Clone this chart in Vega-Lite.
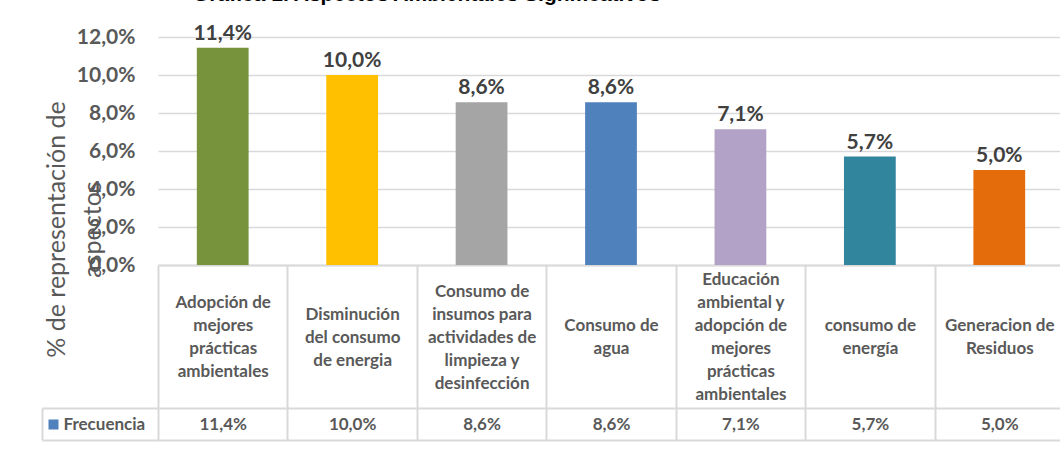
{
  "$schema": "https://vega.github.io/schema/vega-lite/v6.json",
  "width": 906,
  "height": 228,
  "autosize": {"type": "none"},
  "padding": {"left": 158, "top": 37, "right": -4, "bottom": 187},
  "background": "white",
  "config": {
    "locale": {"number": {"decimal": ",", "thousands": ".", "grouping": [3], "currency": ["", " €"]}},
    "view": {"stroke": null},
    "font": "Lato"
  },
  "title": {
    "text": "Gráfica 1. Aspectos Ambientales Significativos",
    "anchor": "start",
    "frame": "group",
    "dx": 35,
    "dy": -1,
    "offset": 0,
    "font": "Liberation Sans",
    "fontSize": 21,
    "fontWeight": "bold",
    "color": "#000000",
    "baseline": "alphabetic"
  },
  "datasets": {
    "tbl": [
      {"categoria": "Adopción de\nmejores\nprácticas\nambientales", "valor": 0.1143},
      {"categoria": "Disminución\ndel consumo\nde energia", "valor": 0.1},
      {"categoria": "Consumo de\ninsumos para\nactividades de\nlimpieza y\ndesinfección", "valor": 0.0857},
      {"categoria": "Consumo de\nagua", "valor": 0.0857},
      {"categoria": "Educación\nambiental y\nadopción de\nmejores\nprácticas\nambientales", "valor": 0.0714},
      {"categoria": "consumo de\nenergía", "valor": 0.0571},
      {"categoria": "Generacion de\nResiduos", "valor": 0.05}
    ]
  },
  "data": {"name": "tbl"},
  "layer": [
    {
      "mark": {"type": "bar", "width": {"band": 0.4}},
      "encoding": {
        "x": {
          "field": "categoria", "type": "nominal", "sort": null,
          "scale": {"paddingInner": 0, "paddingOuter": 0},
          "axis": {
            "orient": "bottom", "title": null, "grid": false,
            "domain": true, "domainColor": "#d9d9d9", "domainWidth": 2,
            "ticks": true, "tickBand": "extent", "tickSize": 143, "tickColor": "#d9d9d9", "tickWidth": 2,
            "labelExpr": "isValid(datum.value) && !datum.extra ? split(datum.value, '\\n') : ''",
            "labelAngle": 0, "labelAlign": "center", "labelBaseline": "middle",
            "labelPadding": {"expr": "isValid(datum.value) ? -71 - (length(split(datum.value, '\\n')) - 1) * 11.5 : 0"},
            "labelLineHeight": 23, "labelFont": "Lato", "labelFontSize": 17, "labelFontWeight": "bold",
            "labelColor": "#595959", "labelOverlap": false, "labelLimit": 0
          }
        },
        "y": {
          "field": "valor", "type": "quantitative",
          "scale": {"domain": [0, 0.12]},
          "axis": {
            "orient": "left",
            "values": [0, 0.02, 0.04, 0.06, 0.08, 0.1, 0.12],
            "format": ".1%",
            "grid": true, "gridColor": "#d9d9d9", "gridWidth": 1.5,
            "domain": false, "ticks": false,
            "labelPadding": 23, "labelFont": "Lato", "labelFontSize": 21, "labelFontWeight": "bold", "labelColor": "#595959",
            "title": ["% de representación de", "aspectos"],
            "titleFont": "Lato", "titleFontSize": 25, "titleFontWeight": "normal", "titleColor": "#595959",
            "titleAngle": 270, "titleX": -94, "titleY": 192, "titleAlign": "center", "titleBaseline": "alphabetic",
            "titleLineHeight": 36
          }
        },
        "color": {
          "field": "categoria", "type": "nominal", "sort": null,
          "scale": {"range": ["#77933c", "#ffc000", "#a5a5a5", "#4f81bd", "#b3a2c7", "#31859c", "#e46c0a"]},
          "legend": null
        }
      }
    },
    {
      "mark": {"type": "text", "baseline": "alphabetic", "dy": -8, "font": "Lato", "fontSize": 21, "fontWeight": "bold", "color": "#404040"},
      "encoding": {
        "x": {
          "field": "categoria", "type": "nominal", "sort": null,
          "axis": {
            "orient": "bottom", "offset": 143, "title": null, "grid": false,
            "domain": true, "domainColor": "#d9d9d9", "domainWidth": 2,
            "ticks": true, "tickBand": "extent", "tickSize": 32, "tickColor": "#d9d9d9", "tickWidth": 2,
            "labelExpr": "isValid(datum.value) && !datum.extra ? format(pluck(data('tbl'), 'valor')[indexof(pluck(data('tbl'), 'categoria'), datum.value)], '.1%') : ''",
            "labelAngle": 0, "labelAlign": "center", "labelBaseline": "middle", "labelPadding": -16,
            "labelFont": "Lato", "labelFontSize": 17, "labelFontWeight": "bold", "labelColor": "#595959",
            "labelOverlap": false, "labelLimit": 0
          }
        },
        "y": {
          "field": "valor", "type": "quantitative",
          "axis": {
            "orient": "left", "offset": 100, "values": [0], "title": null,
            "domain": false, "grid": false,
            "ticks": true, "tickSize": 10, "tickWidth": 10, "tickColor": "#4f81bd", "tickOffset": 159,
            "labelExpr": "'Frecuencia'", "labelOffset": 0, "labelFlush": false, "labelOverlap": false,
            "labelAlign": "left", "labelBaseline": "middle", "labelPadding": -15,
            "labelFont": "Lato", "labelFontSize": 17, "labelFontWeight": "bold", "labelColor": "#595959"
          }
        },
        "text": {"field": "valor", "type": "quantitative", "format": ".1%"}
      }
    },
    {
      "mark": {"type": "bar", "opacity": 0, "width": {"band": 0.4}},
      "encoding": {
        "x": {
          "field": "categoria", "type": "nominal", "sort": null,
          "axis": {
            "orient": "bottom", "offset": 175, "title": null, "grid": false,
            "domain": true, "domainColor": "#d9d9d9", "domainWidth": 2,
            "ticks": false, "labels": false
          }
        },
        "y": {
          "field": "valor", "type": "quantitative",
          "axis": {
            "orient": "left", "values": [0], "title": null, "domain": false, "grid": false, "labels": false,
            "ticks": true, "tickSize": 116, "tickWidth": 2, "tickColor": "#d9d9d9", "tickOffset": 143
          }
        }
      }
    },
    {
      "mark": {"type": "bar", "opacity": 0, "width": {"band": 0.4}},
      "encoding": {
        "x": {
          "field": "categoria", "type": "nominal", "sort": null,
          "axis": {
            "orient": "bottom", "offset": 143, "title": null, "grid": false,
            "domain": false, "labels": false,
            "values": ["Adopción de\nmejores\nprácticas\nambientales"],
            "bandPosition": 0, "tickOffset": -116,
            "ticks": true, "tickSize": 32, "tickWidth": 2, "tickColor": "#d9d9d9"
          }
        },
        "y": {
          "field": "valor", "type": "quantitative",
          "axis": {
            "orient": "left", "values": [0], "title": null, "domain": false, "grid": false, "labels": false,
            "ticks": true, "tickSize": 116, "tickWidth": 2, "tickColor": "#d9d9d9", "tickOffset": 175
          }
        }
      }
    }
  ],
  "resolve": {"axis": {"x": "independent", "y": "independent"}}
}
